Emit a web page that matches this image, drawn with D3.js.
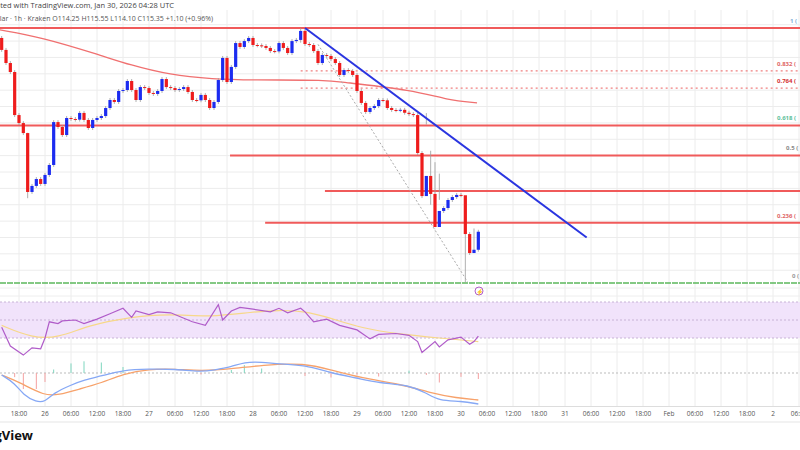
<!DOCTYPE html>
<html><head><meta charset="utf-8">
<script src="https://cdn.jsdelivr.net/npm/d3@7"></script>
<style>body{margin:0;background:#fff}svg{display:block;font-family:"Open Sans",Arial,sans-serif}</style>
</head><body><svg id="c" width="800" height="450"></svg>
<script>
// ---------- data ----------
const firstOpen = 126.80;
const closes = [127.07,127.19,126.46,
125.66,125.11,122.48,121.99,121.38,117.78,118.15,118.57,118.27,118.82,119.43,122.05,121.75,121.26,122.30,122.24,122.20,122.61,122.18,121.69,122.18,122.30,122.42,122.91,123.40,123.28,123.95,124.01,124.56,124.01,123.40,124.19,124.13,123.83,123.77,123.95,124.68,124.19,124.13,
124.01,124.07,124.19,123.89,123.40,123.38,123.71,123.40,122.91,123.28,124.62,125.97,124.50,125.42,126.88,126.64,127.00,127.19,126.76,126.74,126.70,126.58,126.39,126.37,126.88,126.58,126.27,127.00,127.07,127.62,126.82,126.76,126.39,125.66,126.15,
126.09,125.90,125.66,124.93,125.23,125.17,124.93,123.95,123.22,122.67,122.91,123.03,123.40,123.38,122.91,122.79,122.77,122.80,122.62,122.54,122.48,120.16,117.53,118.76,117.66,115.64,116.62,116.80,117.29,117.47,117.60,117.58,115.21,114.05,114.25,115.35];
const wickOverrides = {8:[121.4,117.4],71:[127.80,126.9],109:[115.3,112.25],111:[115.55,114.10],100:[122.6,121.9],101:[120.3,117.0],102:[119.6,116.9],103:[118.9,117.3]};
const lastCandle = "2026-01-30T04:00:00Z";
const fibHigh = 127.80, fibLow = 112.22;
const fibLevels = [1,0.832,0.764,0.618,0.5,0.236,0];
const fibLabels = ["1 (","0.832 (","0.764 (","0.618 (","0.5 (","0.236 (","0 ("];
const fibColors = ["#7fb0d8","#e06666","#d32f2f","#5cc09a","#888","#e06666","#999"];
const fibStyle = ["solid","dot","dot","solid","solid","solid","green"];
const fibStartHour = [-200,59,59,-200,42.7,50.8,-200]; // hours from Jan 26 00:00 where line starts
const extraLevel = {price:117.84, startHour:64.6};
const smaHours = [-10.4,-1,12.7,19.6,28.8,38.8,47.3,65.8,68,85,92.8,99.7];
const smaPrices = [127.68,127.25,126.15,125.54,124.93,124.68,124.62,124.62,124.50,124.01,123.40,123.22];
const rsiHours=[-10,-8,-5,-3,-1,0,1,3,4,7,9,12,15,18,20,21,24,26,29,34,37,40,41,43,45,48,52,54,56,59,60,62,65,68,72,75,77,81,84,86,87,90,91,93,96,98,99,100];
const rsiVals=[42,21,11,19,18,30,48,46,49,50,46,51,57,63,53,60,56,59,58,48,44,67,50,60,64,62,59,63,58,63,59,48,51,44,39,29,34,35,33,26,14,26,20,28,31,23,26,32];
const rsiMaHours=[-10,-3,3,10,19,29,38,48,54,60,66,73,82,91,100];
const rsiMaVals=[44,30,30,44,53,57,53,59,61,60,52,41,34,30,26];
const macdHours=[-10,-7,-5,-2,0,2,6,9,13,18,24,30,36,39,43,46,50,54,60,66,72,77,84,88,91,96,100];
const macdVals=[-0.2,-1.0,-2.2,-2.9,-2.9,-2.0,-1.2,-0.7,-0.3,0.3,0.4,0.4,0.1,0.3,0.6,1.1,1.1,0.9,0.8,0.0,-0.5,-1.0,-1.2,-2.0,-2.8,-2.8,-3.1];
const sigHours=[-10,-6,0,3,8,13,18,24,30,36,43,50,60,66,73,82,89,95,100];
const sigVals=[-0.2,-0.9,-2.3,-2.2,-1.6,-1.0,-0.1,0.4,0.4,0.2,0.4,0.8,1.0,0.3,-0.5,-1.1,-2.0,-2.5,-2.7];
const tickLabels = {"0":"26","24":"27","48":"28","72":"29","96":"30","120":"31","144":"Feb","168":"2"};

// ---------- scales ----------
const svg = d3.select("#c");
const H = 3600000, day0 = Date.parse("2026-01-26T00:00:00Z");
const pxPerHour = 26/6;
const x = d3.scaleUtc().domain([new Date(day0-45/pxPerHour*H), new Date(day0+(800-45)/pxPerHour*H)]).range([0,800]);
const xh = h => x(new Date(day0+h*H));
const y = d3.scaleLinear().domain([129.51,129.51-0.0611*290]).range([0,290]);
const yR = d3.scaleLinear().domain([70,30]).range([302,338]);
const yM = d3.scaleLinear().domain([0,-1]).range([373,383]);

// grid
const g = svg.append("g");
const ticks = d3.range(-6,180,6);
ticks.forEach(h=>g.append("line").attr("x1",xh(h)).attr("x2",xh(h)).attr("y1",10).attr("y2",406).attr("stroke","#ececec"));
d3.range(113,129,1).forEach(p=>g.append("line").attr("x1",0).attr("x2",800).attr("y1",y(p)).attr("y2",y(p)).attr("stroke","#ececec"));
[288,296,344,352].forEach(v=>g.append("line").attr("x1",0).attr("x2",800).attr("y1",v).attr("y2",v).attr("stroke","#eee"));

// RSI pane
svg.append("rect").attr("x",0).attr("y",yR(70)).attr("width",800).attr("height",yR(30)-yR(70)).attr("fill","#f1e3fb");
[70,50,30].forEach(v=>svg.append("line").attr("x1",0).attr("x2",800).attr("y1",yR(v)).attr("y2",yR(v)).attr("stroke","#c8b3d6").attr("stroke-dasharray","2,2"));
svg.append("path").attr("d",d3.line().curve(d3.curveBasis)(rsiMaHours.map((h,i)=>[xh(h),yR(rsiMaVals[i])]))).attr("fill","none").attr("stroke","#f7d889").attr("stroke-width",1.2);
svg.append("path").attr("d",d3.line()(rsiHours.map((h,i)=>[xh(h),yR(rsiVals[i])]))).attr("fill","none").attr("stroke","#b05cc9").attr("stroke-width",1.2);

// MACD pane
svg.append("line").attr("x1",0).attr("x2",800).attr("y1",yM(0)).attr("y2",yM(0)).attr("stroke","#bbb").attr("stroke-dasharray","2,2");
const sigAt = h => { const i = d3.bisectLeft(sigHours,h); if(i<=0) return sigVals[0]; if(i>=sigHours.length) return sigVals[sigVals.length-1]; const t=(h-sigHours[i-1])/(sigHours[i]-sigHours[i-1]); return sigVals[i-1]+t*(sigVals[i]-sigVals[i-1]); };
macdHours.forEach((h,i)=>{const d=macdVals[i]-sigAt(h); svg.append("line").attr("x1",xh(h)).attr("x2",xh(h)).attr("y1",yM(0)).attr("y2",yM(d*1.5)).attr("stroke",d>=0?"#7fd6bf":"#f4a1a1").attr("stroke-width",1);});
svg.append("path").attr("d",d3.line().curve(d3.curveBasis)(sigHours.map((h,i)=>[xh(h),yM(sigVals[i])]))).attr("fill","none").attr("stroke","#f7a26b").attr("stroke-width",1.3);
svg.append("path").attr("d",d3.line().curve(d3.curveBasis)(macdHours.map((h,i)=>[xh(h),yM(macdVals[i])]))).attr("fill","none").attr("stroke","#86a8f5").attr("stroke-width",1.3);

// price overlays
svg.append("path").attr("d",d3.line().curve(d3.curveBasis)(smaHours.map((h,i)=>[xh(h),y(smaPrices[i])]))).attr("fill","none").attr("stroke","#f07070").attr("stroke-width",1.3);
fibLevels.forEach((f,i)=>{
  const p = fibLow + f*(fibHigh-fibLow);
  const l = svg.append("line").attr("x1",Math.max(0,xh(fibStartHour[i]))).attr("x2",800).attr("y1",y(p)).attr("y2",y(p));
  if(fibStyle[i]==="green") l.attr("stroke","#5cb85c").attr("stroke-width",1.5).attr("stroke-dasharray","6,1");
  else if(fibStyle[i]==="dot") l.attr("stroke","#f08080").attr("stroke-width",1.2).attr("stroke-dasharray","2,3");
  else l.attr("stroke","#f05a5a").attr("stroke-width",2);
  svg.append("text").attr("x",780).attr("y",y(p)-5).attr("text-anchor","start").attr("font-size",6).attr("font-weight","bold").attr("fill",fibColors[i]).text(fibLabels[i]).attr("dx",f===1?10:(f===0?12:(f===0.5?6:-3)));
});
svg.append("line").attr("x1",xh(extraLevel.startHour)).attr("x2",800).attr("y1",y(extraLevel.price)).attr("y2",y(extraLevel.price)).attr("stroke","#f05a5a").attr("stroke-width",2);

// candles
const end = Date.parse(lastCandle);
const n = closes.length;
const cg = svg.append("g");
closes.forEach((c,i)=>{
  const o = i===0?firstOpen:closes[i-1];
  const t = new Date(end-(n-1-i)*H);
  const cx = x(t);
  const ov = wickOverrides[i];
  const hi = ov?ov[0]:Math.max(o,c)+0.12, lo = ov?ov[1]:Math.min(o,c)-0.12;
  const up = c>=o, col = up?"#1c2cf0":"#ee1c1c";
  cg.append("line").attr("x1",cx).attr("x2",cx).attr("y1",y(hi)).attr("y2",y(lo)).attr("stroke","#9a9a9a").attr("stroke-width",0.8);
  const top=y(Math.max(o,c)), bot=y(Math.min(o,c));
  cg.append("rect").attr("x",cx-1.6).attr("width",3.2).attr("y",top).attr("height",Math.max(1,bot-top)).attr("fill",col);
});

// trend lines
svg.append("line").attr("x1",xh(63)).attr("x2",xh(97.5)).attr("y1",y(126.8)).attr("y2",y(112.3)).attr("stroke","#aaa").attr("stroke-dasharray","2,2");
svg.append("line").attr("x1",xh(60)).attr("x2",xh(125)).attr("y1",y(fibHigh)).attr("y2",y(115.0)).attr("stroke","#2a35e0").attr("stroke-width",2);

// icon
svg.append("circle").attr("cx",479).attr("cy",291).attr("r",4).attr("fill","none").attr("stroke","#b05cc9");
svg.append("text").attr("x",479).attr("y",293.5).attr("text-anchor","middle").attr("font-size",6).attr("fill","#b05cc9").text("⚡");

// time axis
svg.append("line").attr("x1",0).attr("x2",800).attr("y1",406.5).attr("y2",406.5).attr("stroke","#ddd");
ticks.forEach(h=>{ if(h<-8) return;
  const lab = tickLabels[String(h)] || d3.utcFormat("%H:%M")(new Date(day0+h*H));
  svg.append("text").attr("x",xh(h)).attr("y",416).attr("text-anchor","middle").attr("font-size",6.5).attr("fill","#555").text(lab);});
svg.append("rect").attr("x",0).attr("y",421).attr("width",800).attr("height",2).attr("fill","#f2f2f2");

// header text
svg.append("text").attr("x",-4).attr("y",8).attr("font-size",7.5).attr("fill","#444").text("ated with TradingView.com, Jan 30, 2026 04:28 UTC");
svg.append("text").attr("x",-2).attr("y",21).attr("font-size",7).attr("fill","#555").text("llar · 1h · Kraken   O114.25  H115.55  L114.10  C115.35  +1.10 (+0.96%)");
svg.append("text").attr("x",33).attr("y",440).attr("text-anchor","end").attr("font-size",13).attr("font-weight","bold").attr("fill","#111").text("TradingView");
</script></body></html>
